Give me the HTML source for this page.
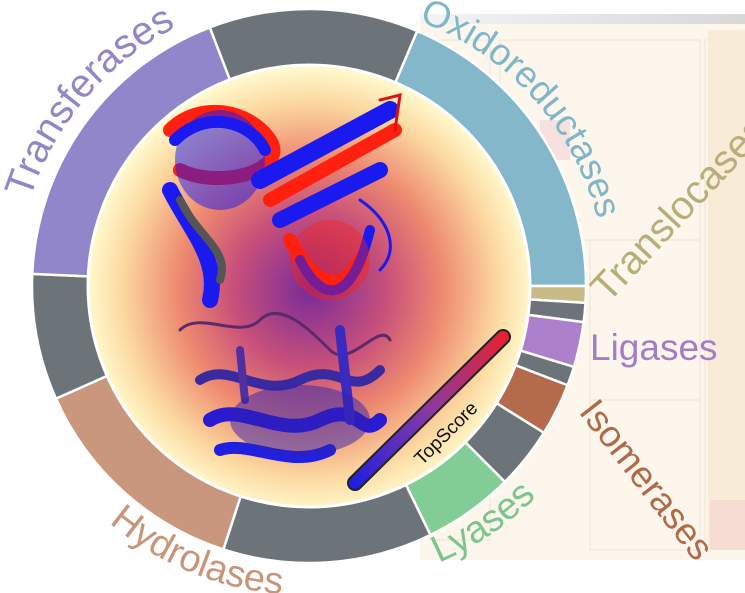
<!DOCTYPE html>
<html><head><meta charset="utf-8"><style>
html,body{margin:0;padding:0;background:#fff;width:745px;height:593px;overflow:hidden}
svg{display:block}
text{font-family:"Liberation Sans",sans-serif}
</style></head><body>
<svg id="s" width="745" height="593" viewBox="0 0 745 593" xmlns="http://www.w3.org/2000/svg">
<defs>
<radialGradient id="rg" cx="310" cy="290" r="221" gradientUnits="userSpaceOnUse">
<stop offset="0" stop-color="#7a2a9a"/>
<stop offset="0.35" stop-color="#c8507a"/>
<stop offset="0.6" stop-color="#ee8a70"/>
<stop offset="0.85" stop-color="#fcd8a0"/>
<stop offset="1" stop-color="#fff8cc"/>
</radialGradient>
<linearGradient id="bar" x1="355" y1="485" x2="505" y2="335" gradientUnits="userSpaceOnUse">
<stop offset="0" stop-color="#2020e0"/><stop offset="0.5" stop-color="#8a3aa0"/><stop offset="1" stop-color="#e82030"/>
</linearGradient>
<linearGradient id="topbar" x1="0" y1="0" x2="1" y2="0">
<stop offset="0" stop-color="#f4f4f4"/><stop offset="1" stop-color="#d8d8d8"/>
</linearGradient>
<path id="pTr" d="M 17 310 A 293 293 0 0 1 230 6"/>
<path id="pOx" d="M 390 12 A 288 288 0 0 1 605 260"/>
<path id="pHy" d="M 60 470 A 305 305 0 0 0 300 595"/>
<path id="pLy" d="M 420 570 A 305 305 0 0 0 560 470"/>
</defs>
<!-- background panel -->
<rect x="420" y="14" width="325" height="546" fill="#fcf6ec"/>
<rect x="420" y="14" width="325" height="10" fill="url(#topbar)"/>
<g fill="none" stroke="#f1e2d2" stroke-width="1">
<rect x="500" y="40" width="200" height="200"/><rect x="590" y="240" width="110" height="160"/>
<rect x="705" y="40" width="40" height="500"/><rect x="590" y="400" width="110" height="150"/>
<rect x="430" y="40" width="60" height="500"/>
</g>
<rect x="708" y="30" width="37" height="520" fill="#f8ecd8"/>
<rect x="540" y="120" width="30" height="40" fill="#f7e0e0"/>
<rect x="710" y="500" width="35" height="50" fill="#f6dcd2"/>
<g id="ring"></g>
<circle cx="309" cy="286" r="221" fill="url(#rg)" stroke="#fff" stroke-width="3"/>
<!-- bottom protein -->
<g fill="none" stroke-linecap="round">
<path d="M180 330 C200 310 240 340 260 320 S310 330 330 350 S380 320 390 340" stroke="#5a2a6a" stroke-width="3"/>
<path d="M200 380 C230 360 260 400 300 380 S350 400 380 370" stroke="#3a2aa0" stroke-width="10"/>
<path d="M210 420 C240 400 280 440 320 420 S360 440 380 420" stroke="#2a1ad0" stroke-width="14"/>
<path d="M220 450 C250 440 290 470 330 450" stroke="#2020e0" stroke-width="12"/>
<path d="M340 330 L350 420" stroke="#3a2ac0" stroke-width="10"/>
<path d="M240 350 L245 400" stroke="#5030a0" stroke-width="8"/>
</g>
<ellipse cx="300" cy="420" rx="70" ry="35" fill="#3020b0" opacity="0.5"/>
<!-- top protein -->
<g fill="none" stroke-linecap="round">
<path d="M170 130 C200 100 250 110 270 140 S220 190 180 170" stroke="#ff2010" stroke-width="14"/>
<path d="M175 140 C205 110 250 120 265 150" stroke="#1a1af0" stroke-width="12"/>
<path d="M260 180 L390 110" stroke="#1a1af0" stroke-width="18"/>
<path d="M270 200 L395 130" stroke="#ff2010" stroke-width="14"/>
<path d="M280 220 L380 170" stroke="#1a1af0" stroke-width="16"/>
<path d="M170 190 C190 230 220 260 210 300" stroke="#1a1af0" stroke-width="16"/>
<path d="M180 200 C200 240 230 250 220 280" stroke="#555" stroke-width="8"/>
<path d="M290 240 C310 280 340 300 360 260" stroke="#ff2010" stroke-width="14"/>
<path d="M300 260 C320 300 350 310 370 230" stroke="#1a1af0" stroke-width="10"/>
<path d="M380 100 L400 95 L395 130" stroke="#e01010" stroke-width="3"/>
<path d="M360 200 C390 220 400 250 380 270" stroke="#1a1af0" stroke-width="3"/>
</g>
<ellipse cx="220" cy="160" rx="45" ry="50" fill="#1a1af0" opacity="0.5"/>
<ellipse cx="330" cy="260" rx="40" ry="40" fill="#ff2010" opacity="0.4"/>
<!-- bar -->
<line x1="355" y1="483" x2="503" y2="337" stroke="#222" stroke-width="16" stroke-linecap="round"/>
<line x1="355" y1="483" x2="503" y2="337" stroke="url(#bar)" stroke-width="12" stroke-linecap="round"/>
<text x="0" y="0" font-size="19" fill="#111" transform="translate(422,466) rotate(-45)">TopScore</text>
<!-- labels -->
<text font-size="40" fill="#9286c8"><textPath href="#pTr" startOffset="112">Transferases</textPath></text>
<text font-size="37" fill="#7fb6c8"><textPath href="#pOx" startOffset="30">Oxidoreductases</textPath></text>
<text font-size="38" fill="#c8957a"><textPath href="#pHy" startOffset="72">Hydrolases</textPath></text>
<text font-size="38" fill="#7cc68e"><textPath href="#pLy" startOffset="20">Lyases</textPath></text>
<text font-size="40" fill="#b9ae7a" transform="translate(608,304) rotate(-47)">Translocases</text>
<text font-size="37" fill="#a57cc6" x="590" y="360">Ligases</text>
<text font-size="37" fill="#b06a4a" transform="translate(578,412) rotate(52)">Isomerases</text>
</svg>
<script>
(function(){
var cx=309,cy=286,R=277,r=218,g=document.getElementById('ring');
var segs=[[-21,23,'#6c7379'],[23,90,'#83b7c9'],[90,93.5,'#c9bb86'],[93.5,97.5,'#6c7379'],[97.5,107,'#ad80cc'],[107,111,'#6c7379'],[111,122,'#b36b4c'],[122,135,'#6c7379'],[135,154,'#82cc95'],[154,198,'#6c7379'],[198,246,'#c9967e'],[246,272.5,'#6c7379'],[272.5,339,'#9186c9']];
function pt(a,rad){var t=a*Math.PI/180;return [cx+rad*Math.sin(t),cy-rad*Math.cos(t)];}
segs.forEach(function(s){
var a=pt(s[0],R),b=pt(s[1],R),c=pt(s[1],r),d=pt(s[0],r),l=(s[1]-s[0])>180?1:0;
var p=document.createElementNS('http://www.w3.org/2000/svg','path');
p.setAttribute('d','M'+a+' A'+R+' '+R+' 0 '+l+' 1 '+b+' L'+c+' A'+r+' '+r+' 0 '+l+' 0 '+d+'Z');
p.setAttribute('fill',s[2]);p.setAttribute('stroke','#fff');p.setAttribute('stroke-width','2.5');
g.appendChild(p);});
})();
</script>
</body></html>
